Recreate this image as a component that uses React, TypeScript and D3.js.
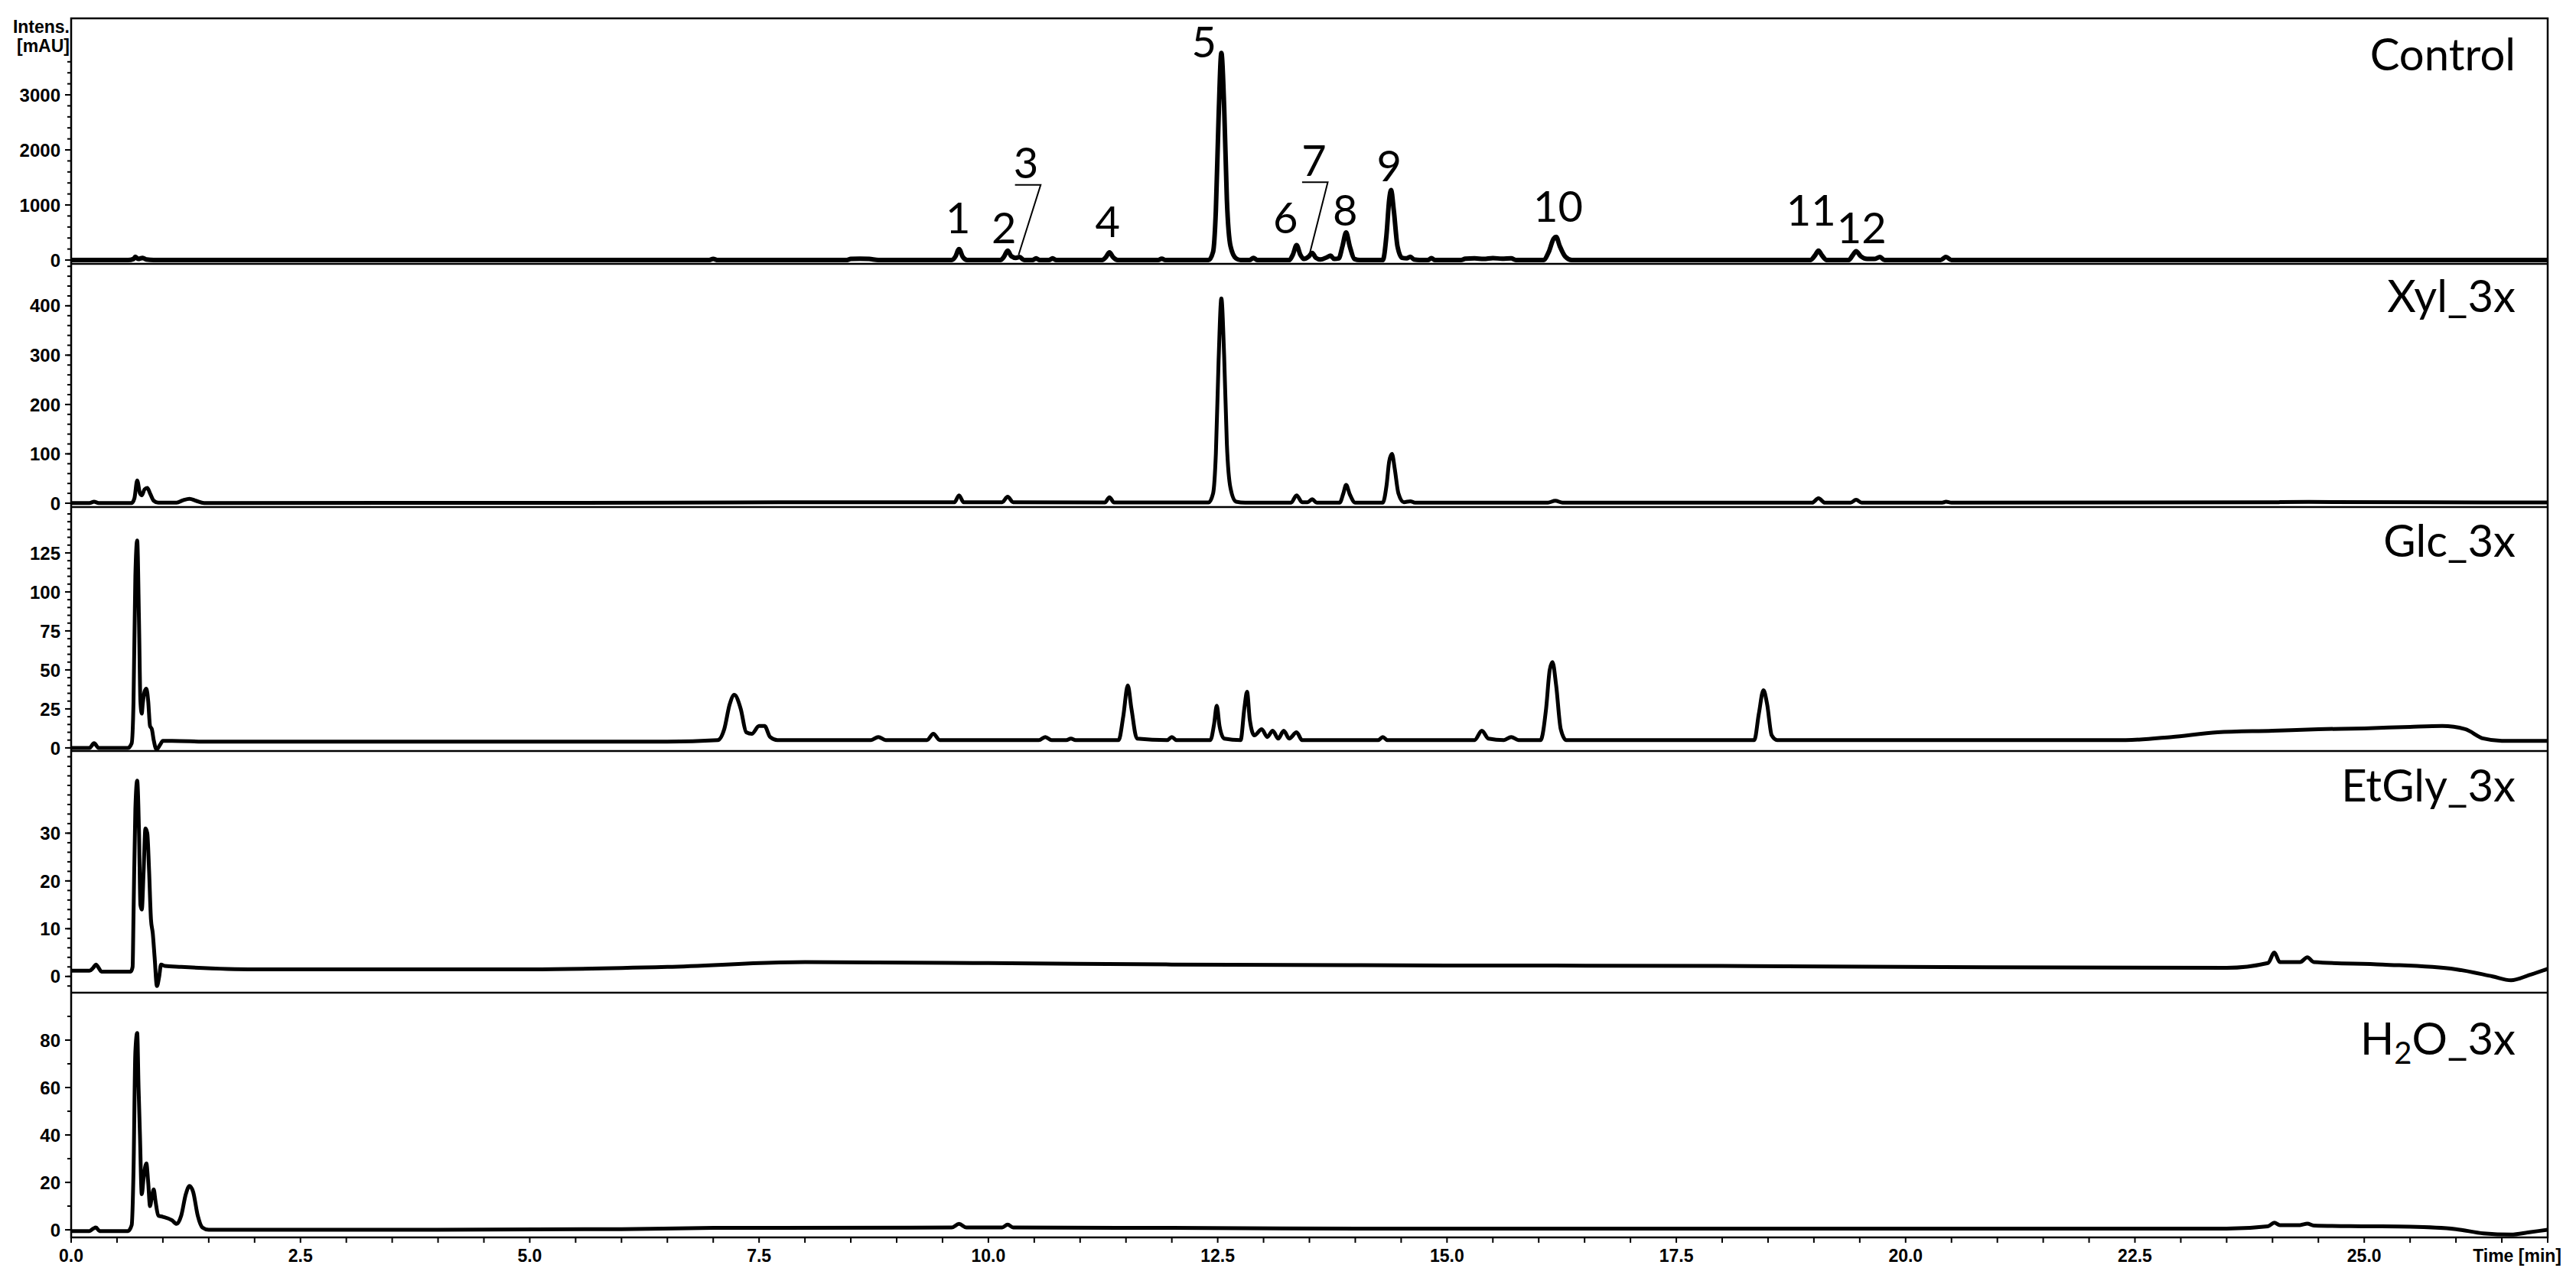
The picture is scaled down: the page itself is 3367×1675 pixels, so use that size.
import React from "react";
import * as d3 from "d3";

// ---------- data ----------
const TIME_MAX = 27;
const X_MAJOR_TICKS = [0, 2.5, 5, 7.5, 10, 12.5, 15, 17.5, 20, 22.5, 25];
const X_TICK_LABELS = ["0.0", "2.5", "5.0", "7.5", "10.0", "12.5", "15.0", "17.5", "20.0", "22.5", "25.0"];
const X_MINOR_STEP = 0.5;
const X_AXIS_TITLE = "Time [min]";
const Y_AXIS_TITLE = ["Intens.", "[mAU]"];

const PANEL_LABELS = ["Control", "Xyl_3x", "Glc_3x", "EtGly_3x", "H2O_3x"];
const Y_DOMAINS: [number, number][] = [
  [-69, 4389],
  [-7.8, 485],
  [-2, 154.4],
  [-3.4, 47.2],
  [-3.2, 100],
];
const Y_MAJOR_TICKS = [
  [0, 1000, 2000, 3000],
  [0, 100, 200, 300, 400],
  [0, 25, 50, 75, 100, 125],
  [0, 10, 20, 30],
  [0, 20, 40, 60, 80],
];
const Y_MINOR_STEP = [200, 20, 5, 2, 10];
const Y_MINOR_MAX = [3600, 480, 150, 46, 90];

const controlTrace: [number, number][] = [
  [0, 0], [0.62, 0], [0.68, 20], [0.7, 60], [0.73, 20], [0.78, 40], [0.82, 10], [0.9, 0],
  [6.95, 0], [7.0, 20], [7.05, 0],
  [8.45, 0], [8.5, 20], [8.6, 25], [8.7, 20], [8.8, 0],
  [9.6, 0], [9.64, 60], [9.68, 200], [9.72, 60], [9.77, 0],
  [10.13, 0], [10.17, 60], [10.21, 170], [10.25, 70], [10.3, 40], [10.34, 55], [10.39, 0],
  [10.48, 0], [10.52, 30], [10.56, 0], [10.66, 0], [10.7, 30], [10.74, 0],
  [11.24, 0], [11.28, 50], [11.32, 140], [11.36, 50], [11.41, 0],
  [11.85, 0], [11.89, 25], [11.93, 0],
  [12.4, 0], [12.45, 150], [12.48, 900], [12.51, 2600], [12.54, 3760], [12.57, 2800], [12.6, 1100], [12.64, 250], [12.7, 30], [12.75, 0],
  [12.85, 0], [12.89, 40], [12.93, 0],
  [13.28, 0], [13.32, 100], [13.36, 270], [13.4, 100], [13.44, 20], [13.49, 60], [13.53, 130], [13.57, 40], [13.62, 10], [13.69, 50], [13.73, 80], [13.77, 20],
  [13.82, 30], [13.86, 250], [13.9, 500], [13.94, 250], [13.99, 20], [14.05, 0],
  [14.3, 0], [14.34, 450], [14.37, 1100], [14.39, 1270], [14.42, 900], [14.46, 250], [14.51, 40], [14.56, 30], [14.6, 60], [14.64, 10], [14.7, 0],
  [14.79, 0], [14.83, 35], [14.87, 0], [15.15, 0], [15.2, 25], [15.3, 30], [15.4, 20], [15.5, 35], [15.6, 25], [15.7, 30], [15.75, 0],
  [16.05, 0], [16.11, 150], [16.16, 380], [16.19, 420], [16.23, 250], [16.29, 60], [16.36, 0],
  [18.96, 0], [19.01, 80], [19.05, 170], [19.09, 80], [19.14, 0],
  [19.38, 0], [19.42, 80], [19.46, 160], [19.51, 70], [19.58, 20], [19.66, 20], [19.72, 55], [19.77, 0],
  [20.38, 0], [20.44, 55], [20.5, 0],
  [27, 0],
];

const xylTrace: [number, number][] = [
  [0, 0.5], [0.2, 0.5], [0.25, 3], [0.3, 0.5], [0.66, 0.5], [0.69, 10], [0.72, 46], [0.75, 20], [0.77, 16], [0.8, 28], [0.83, 31], [0.86, 20], [0.9, 5], [0.95, 1],
  [1.15, 1], [1.22, 6], [1.29, 9], [1.36, 5], [1.45, 0.5],
  [6.5, 1], [8.0, 2], [9.5, 2], [9.63, 2], [9.68, 16], [9.73, 2],
  [10.15, 2], [10.21, 13], [10.27, 2],
  [11.27, 1.5], [11.32, 12], [11.37, 1.5],
  [12.4, 1.5], [12.45, 20], [12.48, 100], [12.51, 290], [12.54, 415], [12.57, 300], [12.6, 120], [12.64, 30], [12.7, 3], [12.8, 1],
  [13.3, 1], [13.36, 16], [13.42, 2], [13.48, 2], [13.53, 8], [13.58, 1],
  [13.83, 1], [13.87, 20], [13.9, 37], [13.94, 18], [14.0, 1],
  [14.3, 1], [14.34, 35], [14.37, 85], [14.4, 100], [14.43, 70], [14.47, 20], [14.53, 2], [14.6, 4], [14.65, 1],
  [16.1, 1], [16.18, 5], [16.26, 1],
  [18.98, 1], [19.05, 10], [19.12, 1],
  [19.4, 1], [19.46, 7], [19.52, 1],
  [20.4, 1], [20.44, 3], [20.5, 1],
  [24.0, 2], [24.4, 2.5], [26.5, 1.5], [27, 1.5],
];

const glcTrace: [number, number][] = [
  [0, 0], [0.2, 0], [0.25, 3], [0.3, 0], [0.62, 0], [0.66, 3], [0.68, 30], [0.7, 110], [0.72, 133], [0.74, 80], [0.755, 30], [0.77, 22], [0.78, 28], [0.8, 36], [0.82, 38], [0.84, 30], [0.86, 14], [0.88, 12], [0.9, 5], [0.93, -1], [0.97, 2], [1.0, 4.5],
  [1.1, 4.5], [1.5, 4], [2.0, 4], [4, 4], [6.5, 4],
  [7.05, 5], [7.12, 12], [7.18, 28], [7.23, 34], [7.3, 25], [7.36, 10], [7.42, 9], [7.5, 14], [7.56, 14], [7.62, 7], [7.7, 5],
  [8.72, 5], [8.8, 7], [8.88, 5],
  [9.33, 5], [9.4, 9], [9.47, 5],
  [10.55, 5], [10.62, 7], [10.69, 5], [10.85, 5], [10.9, 6], [10.95, 5],
  [11.42, 5], [11.47, 20], [11.52, 40], [11.56, 25], [11.62, 6],
  [11.95, 5], [12.0, 7], [12.05, 5],
  [12.42, 5], [12.46, 15], [12.49, 27], [12.52, 14], [12.57, 6],
  [12.75, 5], [12.79, 25], [12.82, 36], [12.85, 18], [12.9, 8], [12.98, 12], [13.04, 7], [13.1, 11], [13.16, 6], [13.22, 11], [13.28, 6], [13.36, 10], [13.42, 5], [13.5, 5],
  [14.25, 5], [14.3, 7], [14.35, 5],
  [15.3, 5], [15.38, 11], [15.45, 6], [15.62, 5], [15.7, 7], [15.78, 5],
  [16.02, 5], [16.08, 25], [16.12, 50], [16.15, 55], [16.19, 40], [16.24, 12], [16.3, 5],
  [18.35, 5], [18.4, 22], [18.45, 37], [18.49, 28], [18.54, 8], [18.6, 5],
  [22.4, 5], [22.9, 7], [23.4, 10], [24.0, 11], [24.5, 12], [25.0, 12.5], [25.5, 13.5], [25.85, 14], [26.1, 12], [26.3, 6], [26.5, 4.5], [27, 4.5],
];

const etglyTrace: [number, number][] = [
  [0, 1.2], [0.2, 1.2], [0.24, 1.8], [0.27, 2.5], [0.3, 1.8], [0.33, 1.0], [0.65, 1.0], [0.67, 2], [0.68, 13], [0.7, 35], [0.72, 41], [0.74, 30], [0.755, 15], [0.77, 14], [0.79, 22], [0.81, 31], [0.83, 30], [0.85, 22], [0.87, 12], [0.89, 9], [0.91, 4], [0.935, -2], [0.96, 0], [0.98, 2.5], [1.02, 2.2],
  [1.2, 2], [2.0, 1.5], [5, 1.5], [6.5, 2], [8, 3], [10, 2.8], [12, 2.5], [15, 2.3], [18, 2.2], [20, 2], [23.5, 1.8],
  [23.95, 2.8], [24.02, 5], [24.08, 3], [24.3, 3], [24.38, 4], [24.45, 3], [25.2, 2.5], [26, 1.5], [26.4, 0], [26.6, -0.8], [26.8, 0.3], [27, 1.6],
];

const h2oTrace: [number, number][] = [
  [0, -0.5], [0.2, -0.5], [0.24, 0.5], [0.27, 1], [0.31, -0.5], [0.62, -0.5], [0.66, 2], [0.68, 25], [0.7, 75], [0.72, 83], [0.735, 60], [0.75, 40], [0.77, 15], [0.79, 22], [0.82, 28], [0.84, 20], [0.86, 10], [0.88, 14], [0.9, 17], [0.92, 12], [0.95, 6],
  [1.0, 5.5], [1.1, 4], [1.15, 2.5], [1.2, 6], [1.25, 15], [1.29, 18.5], [1.33, 16], [1.38, 6], [1.43, 1], [1.5, 0],
  [2, 0], [4, 0], [6, 0.3], [7, 0.8], [9.6, 1], [9.68, 2.5], [9.76, 1], [10.15, 1], [10.21, 2.2], [10.27, 1], [12, 0.8], [14.5, 0.5], [20, 0.5], [23.5, 0.5],
  [23.95, 1.5], [24.02, 3], [24.08, 2], [24.3, 2], [24.38, 2.6], [24.45, 1.8], [25.0, 1.5], [25.5, 1.3], [26.0, 0.3], [26.3, -1.5], [26.6, -2], [26.8, -1], [27, 0],
];

const TRACES = [controlTrace, xylTrace, glcTrace, etglyTrace, h2oTrace];

const PEAK_LABELS = ["1", "2", "3", "4", "5", "6", "7", "8", "9", "10", "11", "12"];
const PEAK_LABEL_TIME = [9.67, 10.17, 10.41, 11.3, 12.35, 13.24, 13.55, 13.89, 14.37, 16.21, 18.97, 19.52];
const PEAK_LABEL_VALUE = [486, 306, 1486, 417, 3681, 486, 1528, 625, 1431, 694, 625, 306];
const LEADER_3: [number, number][] = [[10.29, 1365], [10.57, 1365], [10.33, 97]];
const LEADER_7: [number, number][] = [[13.42, 1412], [13.7, 1412], [13.5, 97]];

// ---------- layout ----------
const W = 3367;
const H = 1675;
const LEFT = 93;
const RIGHT = 3330;
const PANEL_EDGES = [24, 345, 663, 982, 1298, 1618];
const LABEL_BASELINES = [92, 408, 728, 1048, 1379];
const LABEL_RIGHT = 3288;

const AXIS_FONT = "'Liberation Sans', Arial, sans-serif";
const LABEL_FONT = "Lato, 'Open Sans', sans-serif";

export default function App() {
  const x = d3.scaleLinear().domain([0, TIME_MAX]).range([LEFT, RIGHT]);
  const yScales = Y_DOMAINS.map((dom, i) =>
    d3.scaleLinear().domain(dom).range([PANEL_EDGES[i + 1], PANEL_EDGES[i]])
  );
  const xMinor = d3.range(0, TIME_MAX + 0.001, X_MINOR_STEP);

  return (
    <svg
      width={W}
      height={H}
      viewBox={`0 0 ${W} ${H}`}
      style={{ position: "absolute", left: 0, top: 0, display: "block", background: "#fff" }}
    >
      <rect x={0} y={0} width={W} height={H} fill="#fff" />

      {/* traces */}
      {TRACES.map((tr, i) => {
        const y = yScales[i];
        const line = d3
          .line<[number, number]>()
          .x((d) => x(d[0]))
          .y((d) => y(d[1]))
          .curve(d3.curveMonotoneX);
        return (
          <path
            key={"tr" + i}
            d={line(tr) || ""}
            fill="none"
            stroke="#000"
            strokeWidth={i === 0 ? 6 : 5}
            strokeLinejoin="round"
          />
        );
      })}

      {/* frame */}
      <rect
        x={LEFT}
        y={PANEL_EDGES[0]}
        width={RIGHT - LEFT}
        height={PANEL_EDGES[5] - PANEL_EDGES[0]}
        fill="none"
        stroke="#000"
        strokeWidth={2.5}
      />
      {PANEL_EDGES.slice(1, 5).map((py, i) => (
        <line key={"sep" + i} x1={LEFT} x2={RIGHT} y1={py} y2={py} stroke="#000" strokeWidth={2.5} />
      ))}

      {/* y axes */}
      {yScales.map((y, i) => {
        const [lo] = Y_DOMAINS[i];
        const step = Y_MINOR_STEP[i];
        const start = Math.ceil(lo / step) * step;
        const minors = d3.range(start, Y_MINOR_MAX[i] + step * 0.01, step);
        return (
          <g key={"ya" + i}>
            {minors.map((v) => (
              <line key={"mi" + v} x1={LEFT - 5} x2={LEFT} y1={y(v)} y2={y(v)} stroke="#000" strokeWidth={2} />
            ))}
            {Y_MAJOR_TICKS[i].map((v) => (
              <g key={"ma" + v}>
                <line x1={LEFT - 8} x2={LEFT} y1={y(v)} y2={y(v)} stroke="#000" strokeWidth={2} />
                <text
                  x={LEFT - 14}
                  y={y(v)}
                  dy="0.36em"
                  textAnchor="end"
                  fontFamily={AXIS_FONT}
                  fontWeight="bold"
                  fontSize={24}
                  fill="#000"
                >
                  {v}
                </text>
              </g>
            ))}
          </g>
        );
      })}

      {/* y title */}
      <text x={91} y={43} textAnchor="end" fontFamily={AXIS_FONT} fontWeight="bold" fontSize={23} fill="#000">
        {Y_AXIS_TITLE[0]}
      </text>
      <text x={91} y={68} textAnchor="end" fontFamily={AXIS_FONT} fontWeight="bold" fontSize={23} fill="#000">
        {Y_AXIS_TITLE[1]}
      </text>

      {/* x axis */}
      {xMinor.map((t) => (
        <line key={"xm" + t} x1={x(t)} x2={x(t)} y1={PANEL_EDGES[5]} y2={PANEL_EDGES[5] + 7} stroke="#000" strokeWidth={2} />
      ))}
      {X_MAJOR_TICKS.map((t, i) => (
        <text
          key={"xl" + t}
          x={x(t)}
          y={1650}
          textAnchor="middle"
          fontFamily={AXIS_FONT}
          fontWeight="bold"
          fontSize={23}
          fill="#000"
        >
          {X_TICK_LABELS[i]}
        </text>
      ))}
      <text x={3348} y={1650} textAnchor="end" fontFamily={AXIS_FONT} fontWeight="bold" fontSize={23} fill="#000">
        {X_AXIS_TITLE}
      </text>

      {/* panel labels */}
      {PANEL_LABELS.map((lab, i) => (
        <text
          key={"pl" + i}
          x={LABEL_RIGHT}
          y={LABEL_BASELINES[i]}
          textAnchor="end"
          fontFamily={LABEL_FONT}
          fontSize={58}
          fill="#000"
        >
          {lab === "H2O_3x" ? (
            <>
              H<tspan dy="12" fontSize={40}>2</tspan>
              <tspan dy="-12">O_3x</tspan>
            </>
          ) : (
            lab
          )}
        </text>
      ))}

      {/* peak labels (Control) */}
      {PEAK_LABELS.map((lab, i) => (
        <text
          key={"pk" + i}
          x={x(PEAK_LABEL_TIME[i])}
          y={yScales[0](PEAK_LABEL_VALUE[i])}
          textAnchor="middle"
          fontFamily={LABEL_FONT}
          fontSize={56}
          fill="#000"
        >
          {lab}
        </text>
      ))}
      {[LEADER_3, LEADER_7].map((ld, i) => (
        <polyline
          key={"ld" + i}
          points={ld.map((p) => `${x(p[0])},${yScales[0](p[1])}`).join(" ")}
          fill="none"
          stroke="#000"
          strokeWidth={2}
        />
      ))}
    </svg>
  );
}
